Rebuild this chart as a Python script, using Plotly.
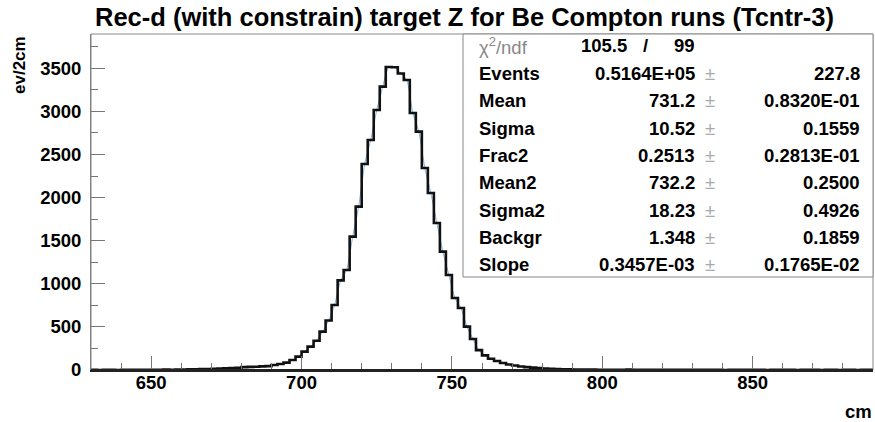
import plotly.graph_objects as go

# ---------------- data ----------------
x_min, x_max, bin_width = 630, 890, 2
counts = [
    1, 0, 2, 1, 0, 2, 1, 3, 1, 2,            # 630-648
    3, 2, 4, 3, 5, 5, 7, 8, 10, 12,          # 650-668
    14, 18, 20, 22, 25, 33, 36, 38, 42, 45,  # 670-688
    58, 70, 85, 116, 155, 213, 271, 340, 445, 575,          # 690-708
    754, 1040, 1160, 1547, 1895, 2390, 2668, 3016, 3287, 3515,  # 710-728
    3512, 3440, 3364, 2981, 2765, 2343, 2053, 1705, 1373, 1102,  # 730-748
    835, 719, 503, 360, 230, 170, 130, 105, 82, 63,          # 750-768
    52, 40, 33, 27, 22, 18, 14, 12, 9, 8,    # 770-788
    6, 5, 5, 4, 3, 3, 2, 3, 2, 4,            # 790-808
    2, 3, 1, 2, 3, 1, 2, 2, 1, 3,            # 810-828
    1, 2, 1, 1, 2, 0, 1, 2, 1, 1,            # 830-848
    2, 1, 0, 1, 2, 1, 1, 0, 1, 2,            # 850-868
    1, 0, 1, 1, 0, 1, 2, 0, 1, 1,            # 870-888
]
y_max = 3898

title_text = "Rec-d (with constrain) target Z for Be Compton runs (Tcntr-3)"
y_title = "ev/2cm"
x_title = "cm"

chi2_value = "105.5"
ndf_value = "99"
stat_names = ["Events", "Mean", "Sigma", "Frac2", "Mean2", "Sigma2", "Backgr", "Slope"]
stat_values = ["0.5164E+05", "731.2", "10.52", "0.2513", "732.2", "18.23", "1.348", "0.3457E-03"]
stat_errors = ["227.8", "0.8320E-01", "0.1559", "0.2813E-01", "0.2500", "0.4926", "0.1859", "0.1765E-02"]

# ---------------- geometry helpers ----------------
W, H = 875, 422
L, R, T, B = 91, 2, 34, 52
PW, PH = W - L - R, H - T - B


def px(x):
    return (x - L) / PW


def py(y):
    return (H - B - y) / PH


n_bins = len(counts)
edges = [x_min + bin_width * i for i in range(n_bins + 1)]
centers = [x_min + bin_width * (i + 0.5) for i in range(n_bins)]

FONT = "Liberation Sans, Arial, Helvetica, sans-serif"

fig = go.Figure()

# smooth fit-like curve (light blue) through bin centres
fig.add_trace(go.Scatter(
    x=centers, y=counts, mode="lines",
    line=dict(color="#7fb0dc", width=1, shape="spline", smoothing=0.6),
    hoverinfo="skip", showlegend=False,
))

# histogram outline
fig.add_trace(go.Scatter(
    x=edges, y=counts + [counts[-1]], mode="lines",
    line=dict(color="#111111", width=2.6, shape="hv"),
    showlegend=False,
))

fig.update_layout(
    width=W, height=H,
    margin=dict(l=L, r=R, t=T, b=B, pad=0),
    paper_bgcolor="white", plot_bgcolor="white",
    font=dict(family=FONT, color="black"),
    showlegend=False,
)

fig.update_xaxes(
    range=[x_min, x_max], showgrid=False, zeroline=False,
    showline=True, linecolor="#222222", linewidth=2,
    ticks="inside", ticklen=14, tickwidth=1, tickcolor="#777777",
    tick0=650, dtick=50,
    minor=dict(ticks="inside", ticklen=7, dtick=10, tick0=650, tickcolor="#777777", tickwidth=1, showgrid=False),
    tickfont=dict(family=FONT, size=18.5, weight="bold", color="black"),
    ticklabelstandoff=-5,
)
fig.update_yaxes(
    range=[0, y_max], showgrid=False, zeroline=False,
    showline=True, linecolor="#777777", linewidth=1,
    ticks="inside", ticklen=14, tickwidth=1, tickcolor="#777777",
    tick0=0, dtick=500,
    minor=dict(ticks="inside", ticklen=7, dtick=250, tickcolor="#777777", tickwidth=1, showgrid=False),
    tickfont=dict(family=FONT, size=18.5, weight="bold", color="black"),
    ticklabelstandoff=5,
)

shapes = []
# frame
shapes.append(dict(type="rect", xref="paper", yref="paper", x0=0, x1=1, y0=0, y1=1,
                   line=dict(color="#888888", width=1), fillcolor="rgba(0,0,0,0)", layer="above"))
# stats box
shapes.append(dict(type="rect", xref="paper", yref="paper",
                   x0=px(463), x1=px(873), y0=py(277), y1=py(34),
                   line=dict(color="#888888", width=1), fillcolor="white", layer="above"))
# x axis line redrawn on top
shapes.append(dict(type="line", xref="paper", yref="paper", x0=0, x1=1, y0=0, y1=0,
                   line=dict(color="#222222", width=2), layer="above"))
fig.update_layout(shapes=shapes)

ann = []
# title
ann.append(dict(text="<b>" + title_text + "</b>", xref="paper", yref="paper",
                x=px(93), y=py(17), xanchor="left", yanchor="middle", showarrow=False,
                font=dict(family=FONT, size=25.5, color="black")))
# axis titles
ann.append(dict(text="<b>" + y_title + "</b>", xref="paper", yref="paper",
                x=px(19), y=py(34), xanchor="center", yanchor="top", textangle=-90, showarrow=False,
                font=dict(family=FONT, size=17, color="black")))
ann.append(dict(text="<b>" + x_title + "</b>", xref="paper", yref="paper",
                x=px(874), y=py(411), xanchor="right", yanchor="middle", showarrow=False,
                font=dict(family=FONT, size=18.5, color="black")))

# stats box contents
row0, dy = 46, 27.35
stat_font = dict(family=FONT, size=18.5, color="black")
ann.append(dict(text="\u03c7<sup>2</sup>/ndf", xref="paper", yref="paper", x=px(477), y=py(row0),
                xanchor="left", yanchor="middle", showarrow=False,
                font=dict(family=FONT, size=18.5, color="#888888")))
ann.append(dict(text="<b>" + chi2_value + "</b>", xref="paper", yref="paper", x=px(629), y=py(row0),
                xanchor="right", yanchor="middle", showarrow=False, font=stat_font))
ann.append(dict(text="<b>/</b>", xref="paper", yref="paper", x=px(645), y=py(row0),
                xanchor="center", yanchor="middle", showarrow=False, font=stat_font))
ann.append(dict(text="<b>" + ndf_value + "</b>", xref="paper", yref="paper", x=px(697), y=py(row0),
                xanchor="right", yanchor="middle", showarrow=False, font=stat_font))
for i, (nm, val, err) in enumerate(zip(stat_names, stat_values, stat_errors)):
    yy = py(row0 + dy * (i + 1))
    ann.append(dict(text="<b>" + nm + "</b>", xref="paper", yref="paper", x=px(477), y=yy,
                    xanchor="left", yanchor="middle", showarrow=False, font=stat_font))
    ann.append(dict(text="<b>" + val + "</b>", xref="paper", yref="paper", x=px(697), y=yy,
                    xanchor="right", yanchor="middle", showarrow=False, font=stat_font))
    ann.append(dict(text="\u00b1", xref="paper", yref="paper", x=px(710), y=yy,
                    xanchor="center", yanchor="middle", showarrow=False,
                    font=dict(family=FONT, size=18.5, color="#aaaaaa")))
    ann.append(dict(text="<b>" + err + "</b>", xref="paper", yref="paper", x=px(862), y=yy,
                    xanchor="right", yanchor="middle", showarrow=False, font=stat_font))

fig.update_layout(annotations=ann)

fig.write_html("out.html")
